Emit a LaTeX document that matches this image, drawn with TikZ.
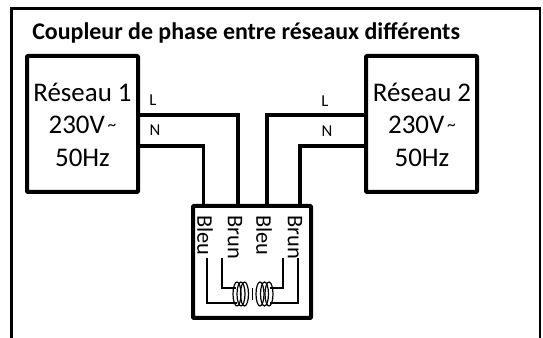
\documentclass[tikz,border=0pt]{standalone}
\usepackage{fontspec}
\setmainfont{Carlito}
\tikzset{
  px/.style={x=0.75pt,y=-0.75pt},
  box/.style={draw=black,line width=3pt,line join=round,rounded corners=0.5pt},
  frameline/.style={draw=black,line width=2.2pt},
  wire/.style={draw=black,line width=2.8pt,line join=miter},
  thin wire/.style={draw=black,line width=1pt},
  netlabel/.style={font=\fontsize{20.2pt}{24pt}\selectfont,align=center,inner sep=0pt},
  smalllabel/.style={font=\fontsize{12.5pt}{14pt}\selectfont,inner sep=0pt},
  vlabel/.style={font=\fontsize{16.8pt}{20pt}\selectfont,rotate=-90,anchor=west,inner sep=0pt}
}
\newcommand{\tildemark}{\raisebox{2pt}{\fontsize{13pt}{13pt}\selectfont\,\textasciitilde}}
\begin{document}
\begin{tikzpicture}[px]
\useasboundingbox (0,0) rectangle (543,338);
\fill[white] (0,0) rectangle (543,338);
\draw[frameline] (11.3,338) -- (11.3,8.5) -- (540,8.5) -- (540,338);
\node[anchor=west,inner sep=0pt,font=\fontsize{17.95pt}{20pt}\selectfont\bfseries] (title) at (32,33) {Coupleur de phase entre réseaux différents};
\coordinate (r1nw) at (27,56); \coordinate (r1se) at (138,192);
\coordinate (r2nw) at (366,56); \coordinate (r2se) at (477,192);
\draw[box] (r1nw) rectangle (r1se);
\draw[box] (r2nw) rectangle (r2se);
\node[netlabel] (r1t) at (82.5,92) {Réseau 1};
\node[netlabel] (r1v) at (82.5,125) {230V\tildemark};
\node[netlabel] (r1f) at (82.5,158) {50Hz};
\node[netlabel] (r2t) at (422,92) {Réseau 2};
\node[netlabel] (r2v) at (422,125) {230V\tildemark};
\node[netlabel] (r2f) at (422,158) {50Hz};
\node[smalllabel] (l1) at (153,100) {L};
\node[smalllabel] (n1) at (155,130) {N};
\node[smalllabel] (l2) at (325,101) {L};
\node[smalllabel] (n2) at (327,131) {N};
\coordinate (bnw) at (193,206); \coordinate (bse) at (311,318);
\draw[box] (bnw) rectangle (bse);
\draw[wire] (r1se |- 0,115) -- (238,115) -- (238,206);
\draw[wire] (r1se |- 0,146) -- (203.5,146) -- (203.5,206);
\draw[wire] (r2nw |- 0,115) -- (267,115) -- (267,206);
\draw[wire] (r2nw |- 0,146) -- (300,146) -- (300,206);
\node[vlabel] (b1) at (205,215) {Bleu};
\node[vlabel] (b2) at (235,215) {Brun};
\node[vlabel] (b3) at (264,215) {Bleu};
\node[vlabel] (b4) at (295,215) {Brun};
\draw[thin wire] (207,258) -- (207,303) -- (237,303);
\draw[thin wire] (222,258) -- (222,288) -- (236,288);
\draw[thin wire] (283,258) -- (283,288) -- (270,288);
\draw[thin wire] (298,258) -- (298,303) -- (270,303);
\foreach \cx in {237,241,244.5,260,264.5,269} {
  \draw[black,line width=0.9pt] (\cx,294) ellipse [x radius=4, y radius=12];
}
\draw[black,line width=0.7pt] (252.5,288) -- (252.5,300);
\end{tikzpicture}
\end{document}
